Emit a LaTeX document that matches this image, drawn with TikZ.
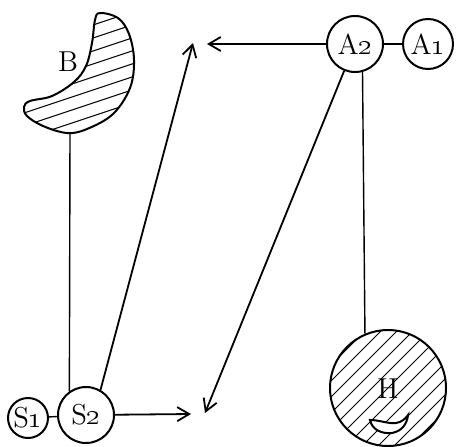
\documentclass[tikz,border=0pt]{standalone}
\usetikzlibrary{arrows.meta}

% outline of the hatched crescent B
\newcommand{\crescentB}{plot[smooth cycle, tension=0.6] coordinates {
  (100,433) (118,428) (129,412) (134,386) (130,358) (113,332) (87,317)
  (67,313) (43,320) (27,330) (24,339) (30,345) (52,350) (74,364)
  (86,380) (92,403) (95,426)}}

\begin{document}
\begin{tikzpicture}[
  x=0.5pt, y=0.5pt,
  every node/.style={inner sep=1pt, font=\Large},
  ring/.style={circle, draw, line width=1pt, inner sep=0pt},
  edge/.style={draw, line width=0.7pt},
  arrow/.style={draw, line width=0.9pt, -{Straight Barb[length=6pt, width=7pt]}},
  hatch/.style={draw, line width=0.5pt},
  outline/.style={draw, line width=1pt}]

  \useasboundingbox (0,0) rectangle (459,446);

  % ---- the crescent B, hatched ------------------------------------------
  \begin{scope}
    \clip \crescentB;
    \foreach \k in {0,...,14}
      \draw[hatch] (0,260+\k*13) -- ++(150,50);
  \end{scope}
  \draw[outline] \crescentB;
  \node (labB) at (68,384) {B};
  \coordinate (Bfoot) at (70,314);

  % ---- the disc H, hatched, with its small crescent -----------------------
  \begin{scope}
    \clip (388,58) circle[radius=58];
    \foreach \k in {-5,...,5}
      \draw[hatch] (388+\k*16-80,58-80) -- ++(160,160);
  \end{scope}
  \draw[outline, fill=white] (370,26) .. controls (372,16) and (382,12) .. (392,13)
    .. controls (402,15) and (407,22) .. (408,31)
    .. controls (405,27) and (402,24) .. (396,23)
    .. controls (388,22) and (380,26) .. cycle;

  % ---- the circles ---------------------------------------------------------
  \node[ring, minimum size=58pt] (H) at (388,58) {};
  \node (labH) at (388,57) {H};
  \node[ring, minimum size=28pt] (A2) at (355,402) {A\oldstylenums{2}};
  \node[ring, minimum size=25pt] (A1) at (428,402) {A\oldstylenums{1}};
  \node[ring, minimum size=28pt] (S2) at (86,31) {S\oldstylenums{2}};
  \node[ring, minimum size=20pt] (S1) at (28,28) {S\oldstylenums{1}};

  % ---- free ends of the arrows --------------------------------------------
  \coordinate (topTip) at (193,403);
  \coordinate (leftTip) at (207,402);
  \coordinate (lowTip) at (205,33);
  \coordinate (rightTip) at (191,32);

  % ---- plain links ---------------------------------------------------------
  \draw[edge] (A2) -- (A1);
  \draw[edge] (S1) -- (S2);
  \draw[edge] (Bfoot) -- (S2.125);
  \draw[edge] (A2.-75) -- (H.113);

  % ---- arrows --------------------------------------------------------------
  \draw[arrow] (A2) -- (leftTip);
  \draw[arrow] (S2.60) -- (topTip);
  \draw[arrow] (A2.-112) -- (lowTip);
  \draw[arrow] (S2) -- (rightTip);
\end{tikzpicture}
\end{document}
